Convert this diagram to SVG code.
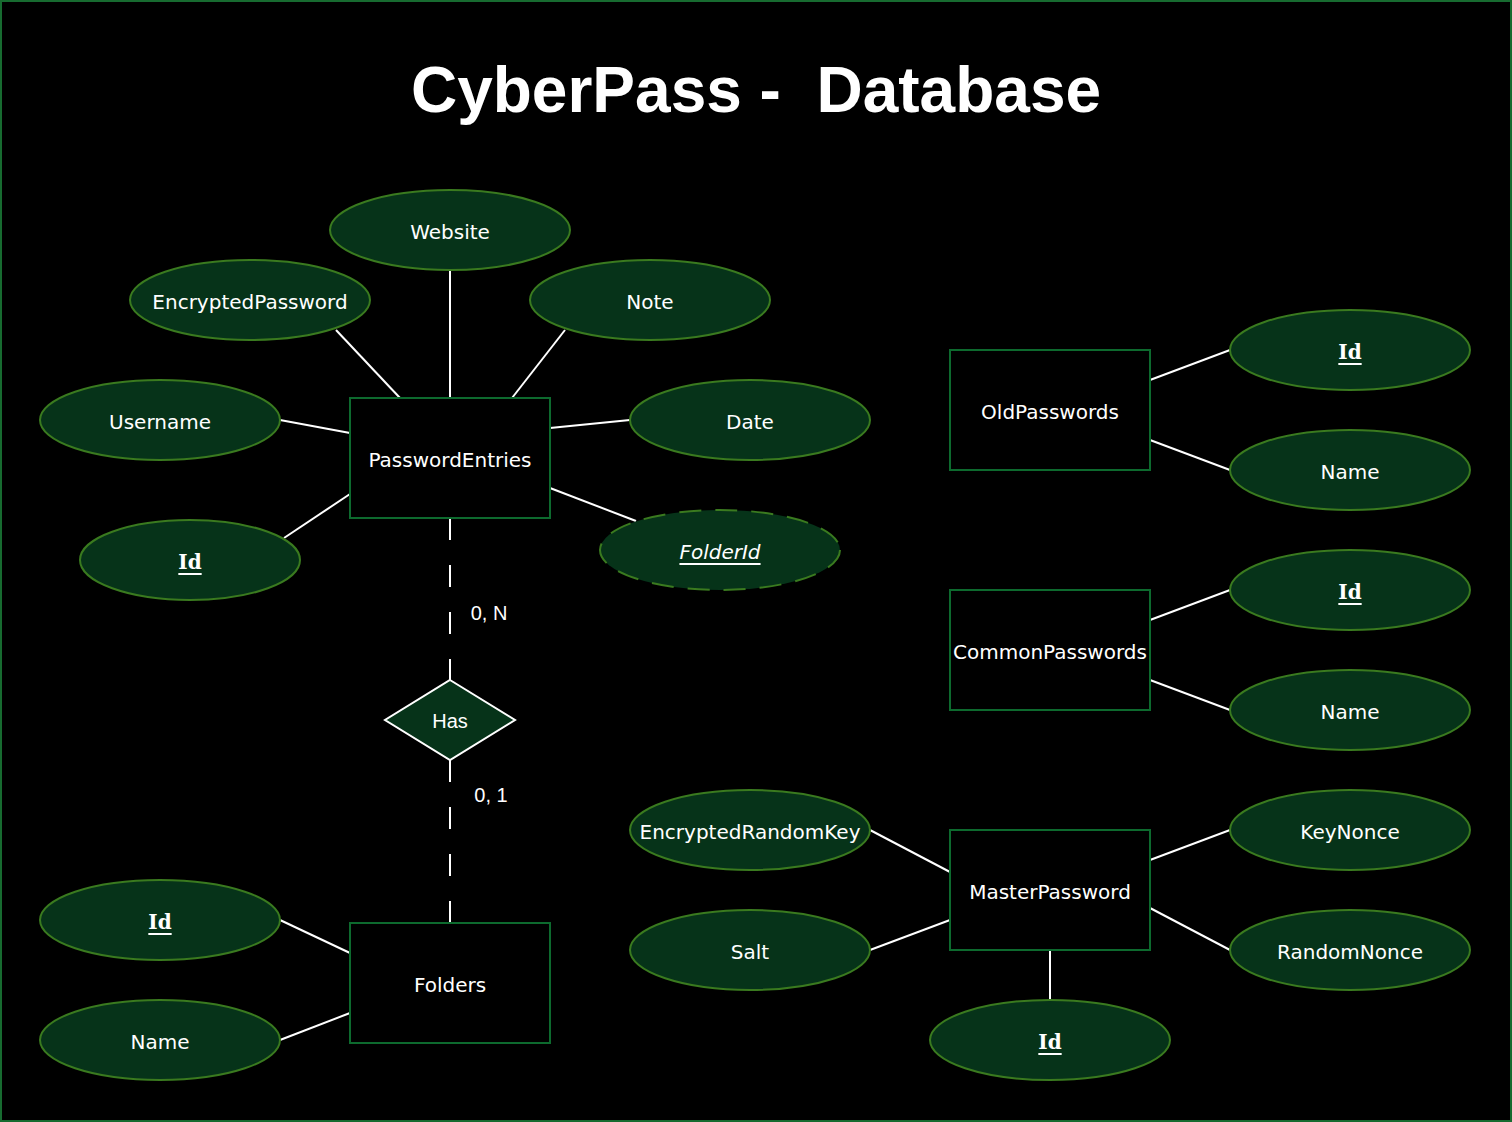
<svg xmlns="http://www.w3.org/2000/svg" width="1512" height="1122" viewBox="0 0 1512 1122">
<style>
.ent{fill:#000;stroke:#0d6a2e;stroke-width:2}
.att{fill:#063319;stroke:#3a7a1f;stroke-width:2}
.dash{stroke-dasharray:22 14}
.t{font-family:"DejaVu Sans",Verdana,sans-serif;font-size:20px;fill:#fff;text-anchor:middle;dominant-baseline:central}
.k{font-family:"DejaVu Serif",serif;font-weight:bold;font-size:20px;fill:#fff;text-anchor:middle;dominant-baseline:central;text-decoration:underline}
.fk{font-style:italic;text-decoration:underline}
.lbl{font-family:"Liberation Sans",Arial,sans-serif;font-size:20px;fill:#fff;text-anchor:middle;dominant-baseline:central}
.c line{stroke:#fff;stroke-width:2}
.rd{stroke-dasharray:22 25}
</style>
<rect x="1" y="1" width="1510" height="1120" fill="#000" stroke="#176b30" stroke-width="2"/>
<text x="756" y="90" font-family="Liberation Sans,Arial,sans-serif" font-weight="bold" font-size="64" fill="#fff" text-anchor="middle" dominant-baseline="central" xml:space="preserve">CyberPass -  Database</text>
<g class="c" id="connectors">
<line x1="450" y1="270" x2="450" y2="398"/>
<line x1="336" y1="330" x2="400" y2="398"/>
<line x1="565" y1="330" x2="512" y2="398"/>
<line x1="280" y1="420" x2="350" y2="433"/>
<line x1="630" y1="420" x2="550" y2="428"/>
<line x1="284" y1="538" x2="350" y2="494"/>
<line x1="636" y1="521" x2="550" y2="488"/>
<line class="rd" x1="450" y1="518" x2="450" y2="680"/>
<line class="rd" x1="450" y1="760" x2="450" y2="923"/>
<line x1="280" y1="920" x2="350" y2="953"/>
<line x1="280" y1="1040" x2="350" y2="1013"/>
<line x1="1150" y1="380" x2="1230" y2="350"/>
<line x1="1150" y1="440" x2="1230" y2="470"/>
<line x1="1150" y1="620" x2="1230" y2="590"/>
<line x1="1150" y1="680" x2="1230" y2="710"/>
<line x1="870" y1="830" x2="950" y2="872"/>
<line x1="870" y1="950" x2="950" y2="920"/>
<line x1="1150" y1="860" x2="1230" y2="830"/>
<line x1="1150" y1="908" x2="1230" y2="950"/>
<line x1="1050" y1="950" x2="1050" y2="1000"/>
<text class="lbl" x="489" y="613">0, N</text>
<text class="lbl" x="491" y="795">0, 1</text>
</g>
<g id="PasswordEntries"><rect class="ent" x="350" y="398" width="200" height="120"/><text class="t" x="450" y="460">PasswordEntries</text></g>
<g id="Website"><ellipse class="att" cx="450" cy="230" rx="120" ry="40"/><text class="t" x="450" y="232">Website</text></g>
<g id="EncryptedPassword"><ellipse class="att" cx="250" cy="300" rx="120" ry="40"/><text class="t" x="250" y="302">EncryptedPassword</text></g>
<g id="Note"><ellipse class="att" cx="650" cy="300" rx="120" ry="40"/><text class="t" x="650" y="302">Note</text></g>
<g id="Username"><ellipse class="att" cx="160" cy="420" rx="120" ry="40"/><text class="t" x="160" y="422">Username</text></g>
<g id="Date"><ellipse class="att" cx="750" cy="420" rx="120" ry="40"/><text class="t" x="750" y="422">Date</text></g>
<g id="PE_Id"><ellipse class="att" cx="190" cy="560" rx="110" ry="40"/><text class="k" x="190" y="562">Id</text></g>
<g id="FolderId"><ellipse class="att dash" cx="720" cy="550" rx="120" ry="40"/><text class="t fk" x="720" y="552">FolderId</text></g>
<g id="Has"><polygon points="450,680 515,720 450,760 385,720" fill="#063319" stroke="#fff" stroke-width="2"/><text class="lbl" x="450" y="721">Has</text></g>
<g id="Folders"><rect class="ent" x="350" y="923" width="200" height="120"/><text class="t" x="450" y="985">Folders</text></g>
<g id="F_Id"><ellipse class="att" cx="160" cy="920" rx="120" ry="40"/><text class="k" x="160" y="922">Id</text></g>
<g id="F_Name"><ellipse class="att" cx="160" cy="1040" rx="120" ry="40"/><text class="t" x="160" y="1042">Name</text></g>
<g id="OldPasswords"><rect class="ent" x="950" y="350" width="200" height="120"/><text class="t" x="1050" y="412">OldPasswords</text></g>
<g id="OP_Id"><ellipse class="att" cx="1350" cy="350" rx="120" ry="40"/><text class="k" x="1350" y="352">Id</text></g>
<g id="OP_Name"><ellipse class="att" cx="1350" cy="470" rx="120" ry="40"/><text class="t" x="1350" y="472">Name</text></g>
<g id="CommonPasswords"><rect class="ent" x="950" y="590" width="200" height="120"/><text class="t" x="1050" y="652">CommonPasswords</text></g>
<g id="CP_Id"><ellipse class="att" cx="1350" cy="590" rx="120" ry="40"/><text class="k" x="1350" y="592">Id</text></g>
<g id="CP_Name"><ellipse class="att" cx="1350" cy="710" rx="120" ry="40"/><text class="t" x="1350" y="712">Name</text></g>
<g id="MasterPassword"><rect class="ent" x="950" y="830" width="200" height="120"/><text class="t" x="1050" y="892">MasterPassword</text></g>
<g id="EncryptedRandomKey"><ellipse class="att" cx="750" cy="830" rx="120" ry="40"/><text class="t" x="750" y="832">EncryptedRandomKey</text></g>
<g id="Salt"><ellipse class="att" cx="750" cy="950" rx="120" ry="40"/><text class="t" x="750" y="952">Salt</text></g>
<g id="KeyNonce"><ellipse class="att" cx="1350" cy="830" rx="120" ry="40"/><text class="t" x="1350" y="832">KeyNonce</text></g>
<g id="RandomNonce"><ellipse class="att" cx="1350" cy="950" rx="120" ry="40"/><text class="t" x="1350" y="952">RandomNonce</text></g>
<g id="MP_Id"><ellipse class="att" cx="1050" cy="1040" rx="120" ry="40"/><text class="k" x="1050" y="1042">Id</text></g>
</svg>
